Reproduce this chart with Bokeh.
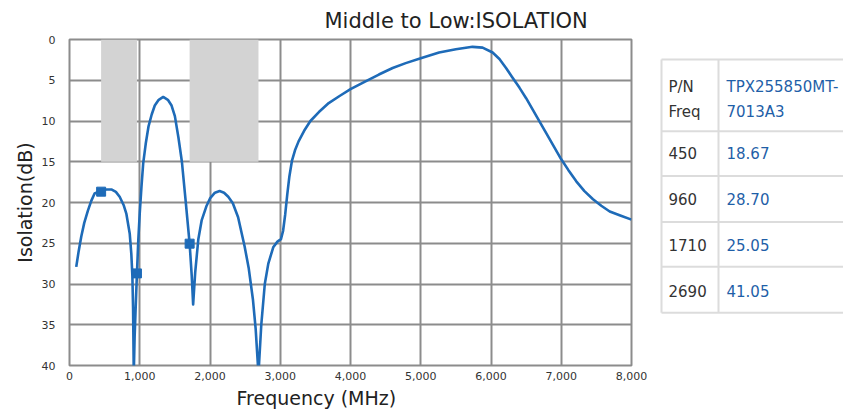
from bokeh.plotting import figure
from bokeh.models import Range1d, FixedTicker, NumeralTickFormatter, Title
from bokeh.layouts import row
from bokeh.core.properties import value
from bokeh.embed import file_html
from bokeh.resources import INLINE

# ---------------- data ----------------
freq = [96, 130, 167, 210, 262, 310, 357, 400, 450, 520, 596, 660, 714, 770, 810, 857,
        880, 895, 905, 915, 927, 939, 960, 980, 1000, 1025, 1049, 1085, 1124, 1170,
        1214, 1270, 1334, 1400, 1453, 1500, 1550, 1600, 1650, 1710, 1740, 1760, 1790,
        1834, 1881, 1947, 2000, 2070, 2137, 2200, 2260, 2325, 2400, 2493, 2550, 2611,
        2650, 2690, 2730, 2780, 2830, 2900, 2960, 3010, 3040, 3070, 3100, 3130, 3166,
        3210, 3261, 3340, 3429, 3550, 3690, 3850, 4000, 4200, 4404, 4600, 4786, 5000,
        5261, 5500, 5737, 5880, 6023, 6120, 6214, 6300, 6404, 6500, 6594, 6700, 6786,
        6900, 7000, 7100, 7214, 7330, 7452, 7570, 7690, 7840, 8000]
isolation = [27.9, 26.0, 24.2, 22.5, 21.0, 19.8, 18.9, 18.75, 18.67, 18.4, 18.4, 18.7,
             19.3, 20.3, 21.4, 23.8, 26.3, 29.0, 33.0, 41.0, 36.5, 33.6, 28.7, 24.5, 21.3,
             18.0, 15.2, 12.8, 10.7, 9.2, 8.1, 7.4, 7.05, 7.4, 8.1, 9.4, 12.0, 15.0, 19.5,
             25.05, 29.0, 32.5, 28.5, 24.5, 22.2, 20.5, 19.5, 18.8, 18.6, 18.8, 19.3, 20.1,
             21.8, 25.4, 28.0, 31.9, 35.5, 41.05, 35.0, 30.0, 27.5, 25.5, 24.8, 24.5, 23.5,
             21.5, 19.0, 16.8, 14.9, 13.6, 12.5, 11.2, 10.0, 8.9, 7.8, 6.9, 6.1, 5.2, 4.3,
             3.5, 2.9, 2.3, 1.6, 1.2, 0.9, 1.0, 1.6, 2.4, 3.5, 4.6, 5.9, 7.2, 8.6, 10.2,
             11.5, 13.2, 14.7, 16.0, 17.4, 18.6, 19.6, 20.4, 21.1, 21.6, 22.1]

marker_freq = [450, 960, 1710, 2690]
marker_val = [18.67, 28.70, 25.05, 41.05]

band_start = [450, 1710]
band_end = [960, 2690]
band_top = [0, 0]
band_bottom = [15, 15]

x_ticks = [0, 1000, 2000, 3000, 4000, 5000, 6000, 7000, 8000]
y_ticks = [0, 5, 10, 15, 20, 25, 30, 35, 40]

table_freq = ["450", "960", "1710", "2690"]
table_vals = ["18.67", "28.70", "25.05", "41.05"]
header_left = ["P/N", "Freq"]
header_right = ["TPX255850MT-", "7013A3"]

title_text = "Middle to Low:ISOLATION"
x_label = "Frequency (MHz)"
y_label = "Isolation(dB)"

# ---------------- styles ----------------
FONT = "DejaVu Sans"
LINE_COLOR = "#1e6bb8"
GRID_COLOR = "#8c8c8c"
TEXT_DARK = "#222222"

W_CHART = 647
p = figure(width=W_CHART, height=415, x_range=Range1d(0, 8000), y_range=Range1d(40, 0),
           output_backend="svg", toolbar_location=None,
           min_border_left=69, min_border_right=16, min_border_top=38, min_border_bottom=50)

p.title = Title(text=title_text, align="left", offset=255, text_font=FONT,
                text_font_size="21px", text_font_style="normal", text_color=TEXT_DARK,
                standoff=13)

p.add_layout(Title(text=x_label, align="left", offset=167, text_font=FONT,
                   text_font_size="19px", text_font_style="normal", text_color=TEXT_DARK,
                   standoff=4), "below")

p.quad(left=band_start, right=band_end, top=band_top, bottom=band_bottom,
       fill_color="#d3d3d3", line_color=None)

p.line(freq, isolation, line_color=LINE_COLOR, line_width=2.6, line_join="round")
p.scatter(marker_freq, marker_val, marker="square", size=9,
          fill_color=LINE_COLOR, line_color=LINE_COLOR)

p.xaxis.ticker = FixedTicker(ticks=x_ticks)
p.yaxis.ticker = FixedTicker(ticks=y_ticks)
p.xaxis.formatter = NumeralTickFormatter(format="0,0")

for ax in (p.xaxis[0], p.yaxis[0]):
    ax.axis_line_color = None
    ax.major_tick_line_color = None
    ax.minor_tick_line_color = None
    ax.major_label_text_font = FONT
    ax.major_label_text_font_size = "11px"
    ax.major_label_text_color = "#333333"

p.xaxis.major_label_standoff = 0
p.yaxis.major_label_standoff = 8

p.yaxis.axis_label = y_label
p.yaxis.axis_label_text_font = FONT
p.yaxis.axis_label_text_font_size = "19px"
p.yaxis.axis_label_text_font_style = "normal"
p.yaxis.axis_label_text_color = TEXT_DARK
p.yaxis.axis_label_standoff = 3

p.grid.grid_line_color = GRID_COLOR
p.grid.grid_line_width = 2
p.outline_line_color = GRID_COLOR
p.outline_line_width = 2

# ---------------- table ----------------
# the table's frame is aligned with the chart's frame (page y 39..366)
t = figure(width=196, height=415, x_range=Range1d(648, 844), y_range=Range1d(366, 39),
           output_backend="svg", toolbar_location=None, min_border=0,
           x_axis_location=None, y_axis_location=None)
t.grid.visible = False
t.outline_line_color = None

row_lines = [59, 131, 176, 222, 267, 313]
TL, TD, TR = 662, 719, 900
BORDER = "#dcdcdc"
t.segment(x0=[TL] * len(row_lines), x1=[TR] * len(row_lines), y0=row_lines, y1=row_lines,
          line_color=BORDER, line_width=2)
t.segment(x0=[TL, TD], x1=[TL, TD], y0=[59, 59], y1=[313, 313], line_color=BORDER, line_width=2)

row_centers = [153, 199, 245, 291]
TFS = "15px"
t.text(x=[669] * 2, y=[87, 112], text=header_left, text_font=value(FONT),
       text_font_size=TFS, text_baseline="middle", text_color="#333333")
t.text(x=[727] * 2, y=[87, 112], text=header_right, text_font=value(FONT),
       text_font_size=TFS, text_baseline="middle", text_color="#1f5fa8")
t.text(x=[669] * 4, y=row_centers, text=table_freq, text_font=value(FONT),
       text_font_size=TFS, text_baseline="middle", text_color="#333333")
t.text(x=[727] * 4, y=row_centers, text=table_vals, text_font=value(FONT),
       text_font_size=TFS, text_baseline="middle", text_color="#1f5fa8")

layout = row(p, t)
open("out.html", "w").write(file_html(layout, INLINE))
